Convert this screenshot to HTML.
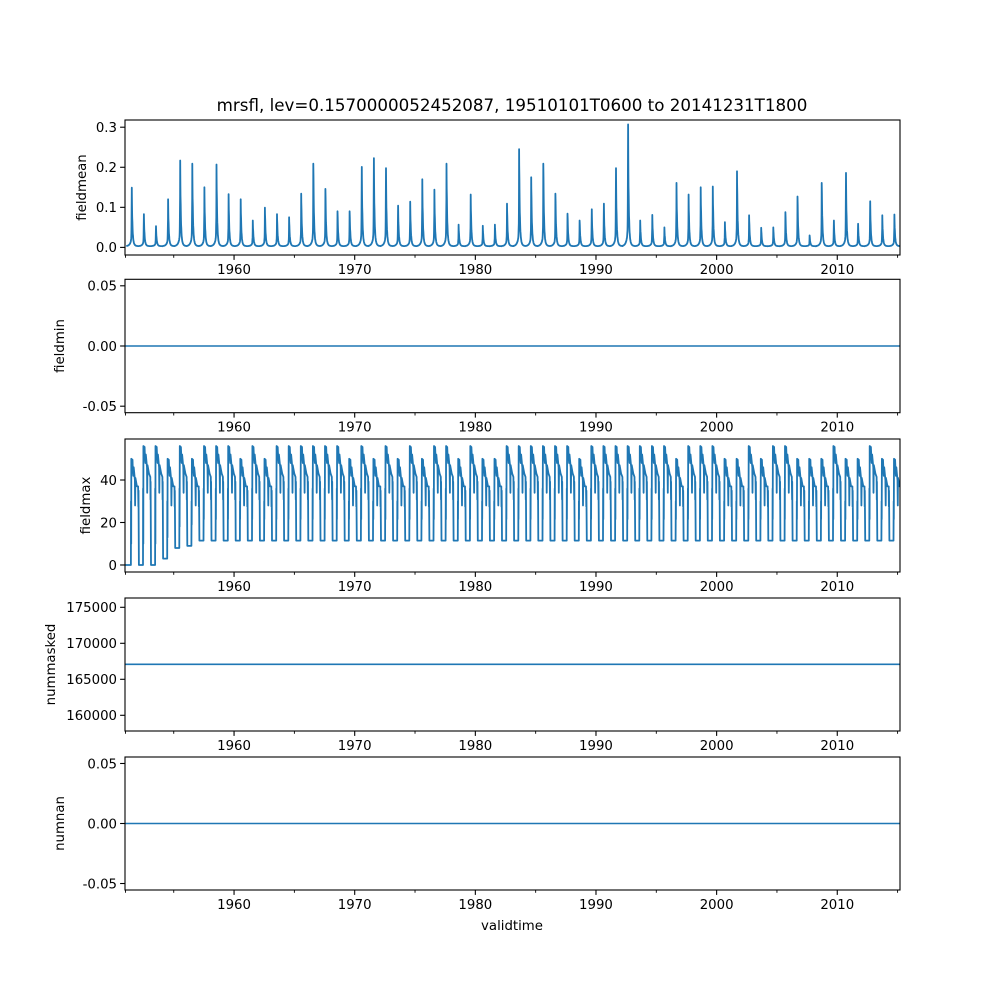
<!DOCTYPE html>
<html><head><meta charset="utf-8"><style>
html,body{margin:0;padding:0;background:#fff;}
svg{display:block;font-family:"DejaVu Sans","Liberation Sans",sans-serif;}
</style></head><body>
<svg id="fig" width="1000" height="1000" viewBox="0 0 1000 1000">
<rect width="1000" height="1000" fill="#fff"/>
<text x="512" y="111" font-size="16.7" text-anchor="middle">mrsfl, lev=0.1570000052452087, 19510101T0600 to 20141231T1800</text>
<text x="512" y="930" font-size="13.3" text-anchor="middle">validtime</text>
</svg>
<script>
// ---- data ----
const xTickYears = [1960, 1970, 1980, 1990, 2000, 2010];
const xMinorYears = [1951, 1955, 1965, 1975, 1985, 1995, 2005, 2015];
const meanPeaks = [0.146,0.08,0.05,0.117,0.214,0.206,0.147,0.204,0.13,0.117,0.064,0.096,0.08,0.072,0.131,0.206,0.143,0.087,0.087,0.198,0.22,0.195,0.101,0.111,0.167,0.141,0.206,0.054,0.129,0.051,0.054,0.106,0.242,0.172,0.206,0.131,0.081,0.064,0.092,0.106,0.195,0.304,0.064,0.078,0.047,0.158,0.129,0.147,0.149,0.06,0.187,0.077,0.046,0.047,0.085,0.124,0.027,0.158,0.064,0.183,0.056,0.112,0.077,0.079];
const maxHighs = [50,56,56,50,56,50,56,56,56,50,56,50,56,56,56,56,56,56,50,56,50,56,50,56,50,56,56,50,56,50,50,56,56,56,56,56,56,50,56,56,56,56,56,56,56,50,56,56,56,50,50,56,50,56,56,50,50,50,56,50,50,56,50,50];
const maxLows = [0,0,3,8,9,11.5];
const meanTicks = [0.0,0.1,0.2,0.3];
const minTicks = [-0.05,0.00,0.05];
const maxTicks = [0,20,40];
const maskTicks = [160000,165000,170000,175000];
const nanTicks = [-0.05,0.00,0.05];
const numMaskedValue = 167083;
const fieldMinValue = 0;
const numNanValue = 0;

const NS="http://www.w3.org/2000/svg";
const svg=document.getElementById('fig');
const X0=125,X1=900,T0=1950.96,T1=2015.2;
const xs=t=>X0+(t-T0)/(T1-T0)*(X1-X0);
function mk(tag,attrs,parent){const e=document.createElementNS(NS,tag);for(const k in attrs)e.setAttribute(k,attrs[k]);(parent||svg).appendChild(e);return e;}

const panels=[
 {name:'fieldmean',top:120,bot:255,ymin:-0.019,ymax:0.318,ticks:meanTicks,fmt:v=>v.toFixed(1),lx:86},
 {name:'fieldmin',top:279.3,bot:412.7,ymin:-0.0554,ymax:0.0554,ticks:minTicks,fmt:v=>v.toFixed(2),lx:64},
 {name:'fieldmax',top:439,bot:572,ymin:-3.3,ymax:59.3,ticks:maxTicks,fmt:v=>String(v),lx:90},
 {name:'nummasked',top:598,bot:731,ymin:157819,ymax:176292,ticks:maskTicks,fmt:v=>String(v),lx:55},
 {name:'numnan',top:757,bot:890,ymin:-0.0554,ymax:0.0554,ticks:nanTicks,fmt:v=>v.toFixed(2),lx:64}
];
panels.forEach(p=>{p.ys=v=>p.bot-(v-p.ymin)/(p.ymax-p.ymin)*(p.bot-p.top);});

function drawPath(p,pts,name,w){
  let d='';pts.forEach((q,i)=>{d+=(i?'L':'M')+xs(q[0]).toFixed(1)+','+p.ys(q[1]).toFixed(1);});
  const e=mk('path',{d:d,fill:'none',stroke:'#1f77b4','stroke-width':w||1.5,'stroke-linejoin':'round'},p.g);
  
  
}

panels.forEach((p,pi)=>{
  const g=mk('g',{});
  
  
  p.g=g;
  const cp=mk('clipPath',{id:'c'+pi},g);mk('rect',{x:X0,y:p.top,width:X1-X0,height:p.bot-p.top},cp);
  p.clip=mk('g',{'clip-path':'url(#c'+pi+')'},g);
  p.ticks.forEach(v=>{const y=p.ys(v);
    const t=mk('line',{x1:X0-4.9,x2:X0,y1:y,y2:y,stroke:'#000','stroke-width':1.1},g);
    
    
    const l=mk('text',{x:X0-8,y:y+4.8,'font-size':13.3,'text-anchor':'end'},g);l.textContent=p.fmt(v);
    
    
  });
  xTickYears.forEach(yr=>{const x=xs(yr);
    const t=mk('line',{x1:x,x2:x,y1:p.bot,y2:p.bot+4.9,stroke:'#000','stroke-width':1.1},g);
    
    
    const l=mk('text',{x:x,y:p.bot+19,'font-size':13.3,'text-anchor':'middle'},g);l.textContent=yr;
    
    
  });
  xMinorYears.forEach(yr=>{let x=Math.min(Math.max(xs(yr),X0),X1);
    mk('line',{x1:x,x2:x,y1:p.bot,y2:p.bot+2.8,stroke:'#000','stroke-width':0.9},g);});
  const yl=mk('text',{x:0,y:0,'font-size':13.3,'text-anchor':'middle',transform:'translate('+p.lx+','+((p.top+p.bot)/2)+') rotate(-90)'},g);
  yl.textContent=p.name;
  
  
});

// fieldmean series
(function(){const p=panels[0];const pts=[];
  meanPeaks.forEach((P,i)=>{const tp=1951.52+i*1.0034;
    for(let k=-45;k<=55;k++){const dt=k*0.01;
      let v=0.003+(dt<0?0.85*P*Math.exp(dt/0.015):0.85*P*Math.exp(-dt/0.05))+0.15*P*Math.exp(-Math.abs(dt)/0.12);
      pts.push([tp+dt,v]);}
  });
  drawPath({g:p.clip,ys:p.ys},pts,'fieldmean-line',1.8);})();

// fieldmax series
(function(){const p=panels[2];const pts=[];
  maxHighs.forEach((H,i)=>{const ts=1951.45+i*1.0034;
    const low=i<maxLows.length-1?maxLows[i]:maxLows[maxLows.length-1];
    const prevLow=i===0?0:(i-1<maxLows.length-1?maxLows[i-1]:maxLows[maxLows.length-1]);
    if(i===0)pts.push([T0,0]);
    pts.push([ts,prevLow]);pts.push([ts+0.01,H-20]);pts.push([ts+0.02,prevLow+10]);pts.push([ts+0.035,H]);
    pts.push([ts+0.13,H-0.5]);pts.push([ts+0.16,H-5]);pts.push([ts+0.2,H-8]);pts.push([ts+0.23,H-4]);
    pts.push([ts+0.33,H-10]);pts.push([ts+0.35,H-22]);pts.push([ts+0.37,H-9]);
    pts.push([ts+0.5,H-13]);pts.push([ts+0.6,H*0.74]);pts.push([ts+0.62,H*0.55]);pts.push([ts+0.63,H*0.7]);pts.push([ts+0.66,low]);
  });
  pts.push([T1,11.5]);
  drawPath({g:p.clip,ys:p.ys},pts,'fieldmax-line',1.8);})();

[[1,fieldMinValue,'fieldmin-line'],[3,numMaskedValue,'nummasked-line'],[4,numNanValue,'numnan-line']].forEach(a=>{
  const p=panels[a[0]];drawPath({g:p.clip,ys:p.ys},[[T0,a[1]],[T1,a[1]]],a[2],1.6);});

panels.forEach(p=>{const r=mk('rect',{x:X0,y:p.top,width:X1-X0,height:p.bot-p.top,fill:'none',stroke:'#000','stroke-width':1.1},p.g);
  
  });
</script>
</body></html>
